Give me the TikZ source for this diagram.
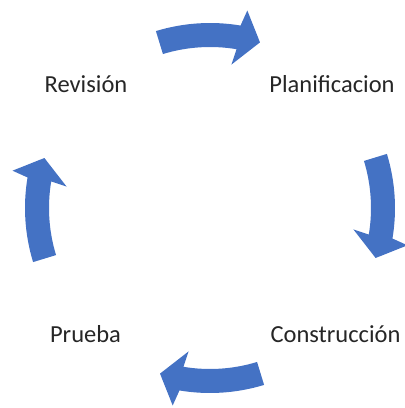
\documentclass[tikz,border=0pt]{standalone}
\usepackage{fontspec}
\setmainfont{Carlito}
\usetikzlibrary{calc}
\definecolor{arrowblue}{RGB}{68,114,196}
\definecolor{labeltext}{RGB}{38,38,38}
\begin{document}
\begin{tikzpicture}[x=1pt,y=1pt,
  label/.style={anchor=base,inner sep=0pt,text=labeltext,font=\fontsize{24.5}{28}\selectfont},
  cyclearrow/.style={fill=arrowblue,draw=none}]
\useasboundingbox (0,0) rectangle (405,408);
\coordinate (C) at (210,200);
\def\R{173}\def\W{12}\def\H{28}
\foreach \t in {90,0,-90,180}{
  \pgfmathsetmacro{\ta}{\t+17}
  \pgfmathsetmacro{\tb}{\t-9.5}
  \pgfmathsetmacro{\tc}{\t-16.8}
  \pgfmathsetmacro{\ro}{\R+\W}
  \pgfmathsetmacro{\ri}{\R-\W}
  \pgfmathsetmacro{\rhO}{\R+\H}
  \pgfmathsetmacro{\rhI}{\R-\H}
  \fill[cyclearrow] ($(C)+(\ta:\ro)$) arc[start angle=\ta,end angle=\tb,radius=\ro]
    -- ($(C)+(\tb-1.2:\rhO)$) -- ($(C)+(\tc:\R)$) -- ($(C)+(\tb+1:\rhI)$)
    -- ($(C)+(\tb:\ri)$) arc[start angle=\tb,end angle=\ta,radius=\ri] -- cycle;
}
\node[label] (rev) at (86,315) {Revisión};
\node[label] (plan) at (332,315) {Planificacion};
\node[label] (prue) at (85.5,65) {Prueba};
\node[label] (cons) at (335.5,65) {Construcción};
\end{tikzpicture}
\end{document}
